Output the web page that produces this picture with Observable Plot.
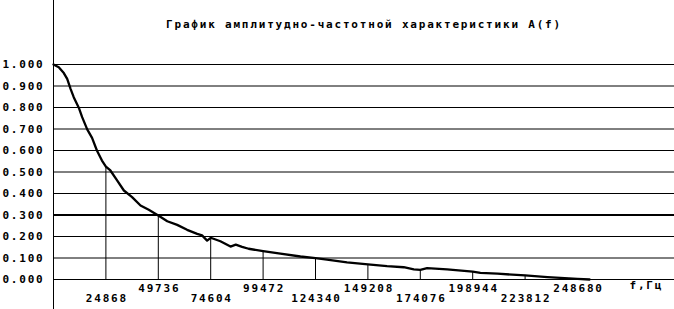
<!DOCTYPE html>
<html><head><meta charset="utf-8">
<script src="https://cdn.jsdelivr.net/npm/d3@7"></script>
<script src="https://cdn.jsdelivr.net/npm/@observablehq/plot@0.6"></script>
<style>
body{margin:0;background:#fff;}
svg text{font-family:"DejaVu Sans Mono",monospace;font-weight:bold;letter-spacing:1.8px;}
g[aria-label="title"] text{letter-spacing:1.95px;}
g[aria-label="xunit"] text{font-family:"DejaVu Sans",sans-serif;letter-spacing:0;}
</style></head><body><div id="chart"></div>
<script>
const title = "График амплитудно-частотной характеристики A(f)";
const xLabel = "f,Гц";
const freq = [0, 2500, 4900, 6500, 8100, 9600, 12000, 13600, 16000, 18300, 20600, 23000, 24868, 27000, 29700, 33400, 37300, 41300, 45200, 49736, 54000, 58700, 63400, 68200, 70500, 72900, 74604, 79200, 84000, 86500, 89500, 92600, 99472, 107700, 117200, 124340, 129800, 139300, 149208, 158300, 166200, 171000, 174076, 177300, 186800, 198944, 202600, 210700, 223812, 234400, 248680, 254400];
const amp = [1.0, 0.987, 0.96, 0.933, 0.887, 0.848, 0.799, 0.755, 0.698, 0.659, 0.6, 0.553, 0.525, 0.507, 0.468, 0.414, 0.383, 0.344, 0.324, 0.298, 0.271, 0.254, 0.231, 0.212, 0.205, 0.181, 0.194, 0.178, 0.153, 0.162, 0.152, 0.143, 0.132, 0.12, 0.107, 0.099, 0.092, 0.08, 0.07, 0.062, 0.057, 0.047, 0.045, 0.053, 0.047, 0.037, 0.031, 0.027, 0.019, 0.011, 0.003, 0.0];
const xTicks = [24868, 49736, 74604, 99472, 124340, 149208, 174076, 198944, 223812, 248680];
const dropTops = [0.525, 0.298, 0.194, 0.132, 0.099, 0.07, 0.045, 0.037, 0.019, 0.003];
const yTicks = [0, 0.1, 0.2, 0.3, 0.4, 0.5, 0.6, 0.7, 0.8, 0.9, 1.0];
const threshold = 0.3;

const curve = freq.map((f, i) => ({f, a: amp[i]}));
const drops = xTicks.map((f, i) => ({f, top: dropTops[i], row: i % 2}));

const chart = Plot.plot({
  width: 674, height: 309,
  marginLeft: 53, marginRight: 0, marginTop: 0, marginBottom: 0,
  x: {domain: [0, 248680], range: [53, 577], axis: null},
  y: {domain: [0, 1], range: [279, 64], axis: null},
  marks: [
    Plot.ruleY(yTicks.filter(d => d !== threshold), {stroke: "#000", strokeWidth: 1}),
    Plot.ruleY([threshold], {stroke: "#000", strokeWidth: 2}),
    Plot.ruleX([0], {stroke: "#000", strokeWidth: 1}),
    Plot.ruleX(drops, {x: "f", y1: 0, y2: "top", stroke: "#000", strokeWidth: 1}),
    Plot.line(curve, {x: "f", y: "a", stroke: "#000", strokeWidth: 2.3}),
    Plot.text(yTicks, {x: 0, y: d => d, text: d => d3.format(".3f")(d), textAnchor: "end", dx: -9, fontSize: 11, fill: "#000"}),
    Plot.text(drops.filter(d => d.row === 1), {x: "f", y: 0, text: d => String(d.f), dy: 9, dx: 1, fontSize: 11, fill: "#000"}),
    Plot.text(drops.filter(d => d.row === 0), {x: "f", y: 0, text: d => String(d.f), dy: 19, dx: 1, fontSize: 11, fill: "#000"}),
    Plot.text([xLabel], {frameAnchor: "bottom-right", dx: -45, dy: -21, textAnchor: "start", fontSize: 11, fill: "#000", ariaLabel: "xunit"}),
    Plot.text([title], {frameAnchor: "top", dx: 0, dy: 20, fontSize: 11, fill: "#000", ariaLabel: "title"})
  ]
});
document.getElementById("chart").appendChild(chart);
</script></body></html>
